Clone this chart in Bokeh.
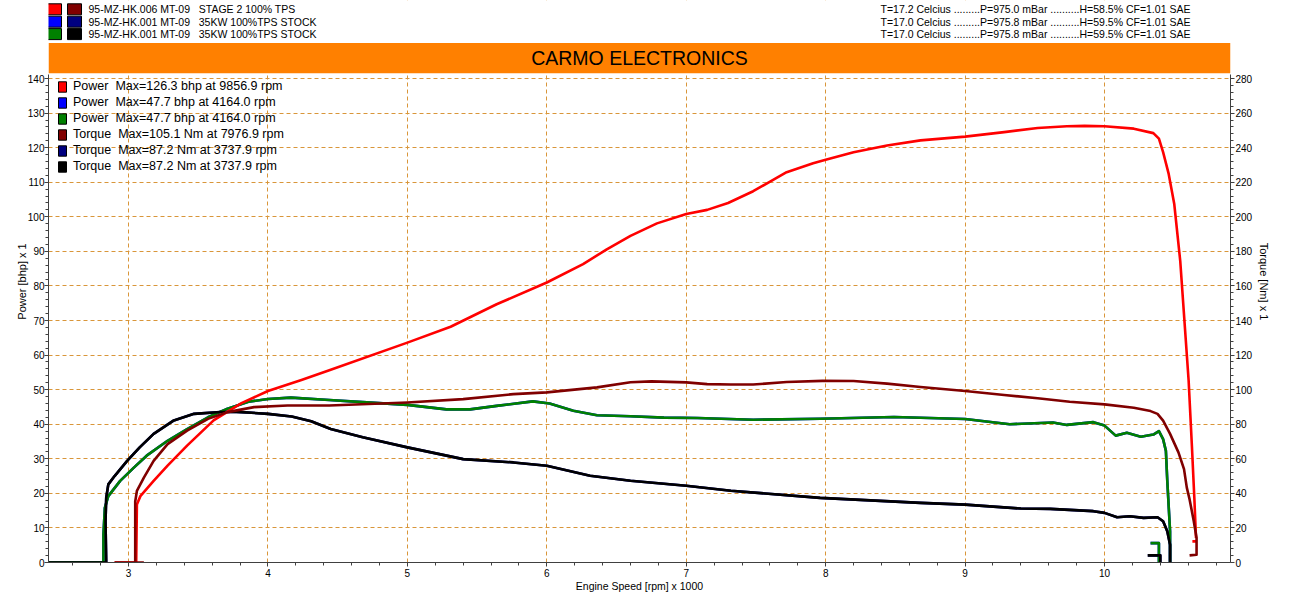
import math
from bokeh.plotting import figure
from bokeh.models import (Range1d, LinearAxis, FixedTicker, Legend, LegendItem,
                          Label, BoxAnnotation)
from bokeh.embed import file_html
from bokeh.resources import INLINE

NaN = float("nan")

# ---------------- data (rpm x 1000) ----------------
# STAGE 2 run: power (bhp) and torque (Nm)
rpm_stage2_power = [2.90, 3.055, 3.06, 3.085, 3.18, 3.28, 3.42, 3.61, 3.81, 4.0, 4.24, 4.44,
                    5.0, 5.31, 5.64, 6.0, 6.26, 6.43, 6.6, 6.79, 7.0, 7.15, 7.3, 7.48, 7.72, 7.91,
                    8.0, 8.2, 8.44, 8.68, 9.0, 9.28, 9.52, 9.73, 9.857, 10.0, 10.21, 10.35,
                    10.39, 10.42, 10.46, 10.50, 10.543, 10.603, 10.627, 10.644, 10.656,
                    NaN, 10.63, 10.656]
power_stage2 = [0, 0, 16.8, 19.2, 23.6, 28.0, 33.8, 41.1, 46.1, 49.6, 52.8, 55.6,
                63.6, 68.2, 74.7, 81.0, 86.3, 90.6, 94.5, 98.1, 100.8, 102.0, 104.0, 107.4, 112.9, 115.5,
                116.5, 118.7, 120.6, 122.1, 123.2, 124.5, 125.7, 126.2, 126.3, 126.2, 125.5, 124.2,
                122.6, 118.7, 112.4, 103.7, 87.2, 52.7, 33.3, 18.7, 7.1,
                NaN, 6.1, 6.1]

rpm_stage2_torque = [2.90, 3.11, NaN, 3.048, 3.048, 3.06, 3.11, 3.18, 3.28, 3.42, 3.57, 3.71,
                     3.90, 4.14, 4.44, 5.0, 5.40, 5.76, 6.0, 6.36, 6.6, 6.75, 7.0, 7.15, 7.32,
                     7.48, 7.72, 7.977, 8.2, 8.44, 8.68, 9.0, 9.28, 9.52, 9.75, 10.0, 10.21,
                     10.33, 10.38, 10.42, 10.47, 10.53, 10.57, 10.59, 10.61, 10.64, 10.66,
                     10.66, 10.61]
torque_stage2 = [0, 0, NaN, 0, 35.3, 41.4, 49.1, 58.8, 68.5, 76.3, 83.1, 87.0,
                 89.9, 90.8, 90.8, 92.6, 94.5, 97.4, 98.4, 101.3, 104.3, 104.8, 104.2, 103.2, 103.0,
                 103.0, 104.4, 105.1, 105.0, 103.5, 101.5, 99.2, 96.9, 95.0, 93.0, 91.5, 89.5,
                 87.6, 86.0, 82.1, 74.4, 63.7, 54.0, 43.3, 36.5, 23.9, 14.2,
                 4.5, 4.1]

# STOCK run (35KW 100%TPS): power (bhp) and torque (Nm)
rpm_stock_power = [2.40, 2.82, 2.82, 2.83, 2.855, 2.94, 3.04, 3.13, 3.28, 3.42, 3.57, 3.71,
                   3.86, 4.0, 4.164, 4.44, 4.68, 5.0, 5.28, 5.45, 5.64, 5.9, 6.02, 6.19, 6.36,
                   6.6, 6.84, 7.08, 7.48, 7.96, 8.49, 9.0, 9.32, 9.63, 9.73, 9.92, 10.0, 10.08,
                   10.16, 10.26, 10.35, 10.39, 10.42, 10.44, 10.45, 10.47, 10.47,
                   NaN, 10.33, 10.39, 10.39]
power_stock = [0, 0, 8.1, 15.8, 19.2, 23.6, 27.5, 30.9, 35.2, 38.6, 42.0, 44.5,
               46.5, 47.3, 47.7, 47.0, 46.4, 45.6, 44.3, 44.3, 45.3, 46.6, 46.0, 43.9, 42.6,
               42.3, 41.9, 41.8, 41.3, 41.6, 42.1, 41.5, 40.0, 40.5, 39.8, 40.6, 39.6, 36.7,
               37.5, 36.4, 37.0, 38.0, 35.7, 32.3, 23.6, 9.0, 0,
               NaN, 5.6, 5.6, 0]

rpm_stock_torque = [2.40, 2.84, 2.835, 2.84, 2.855, 2.90, 2.99, 3.08, 3.18, 3.325, 3.47, 3.66,
                    3.738, 3.81, 4.0, 4.17, 4.31, 4.45, 4.68, 5.0, 5.40, 5.76, 6.0, 6.31, 6.6,
                    7.0, 7.32, 7.96, 8.68, 9.0, 9.4, 9.61, 9.92, 10.0, 10.09, 10.18, 10.28,
                    10.38, 10.42, 10.45, 10.47, 10.47,
                    NaN, 10.31, 10.40, 10.40]
torque_stock = [0, 0, 23.9, 37.5, 45.2, 50.0, 58.8, 66.6, 74.4, 82.2, 86.0, 87.1,
                87.2, 87.0, 86.0, 84.5, 81.7, 77.2, 72.4, 66.6, 59.8, 57.9, 56.0, 50.2, 47.3,
                44.4, 41.5, 37.4, 34.5, 33.5, 31.2, 31.0, 29.7, 28.7, 26.2, 26.8, 25.8,
                26.2, 23.9, 18.1, 10.3, 0,
                NaN, 4.1, 4.1, 0]

# header / legend texts
run_names = ["95-MZ-HK.006 MT-09\u00a0\u00a0 STAGE 2 100% TPS",
             "95-MZ-HK.001 MT-09\u00a0\u00a0 35KW 100%TPS STOCK",
             "95-MZ-HK.001 MT-09\u00a0\u00a0 35KW 100%TPS STOCK"]
run_conditions = ["T=17.2 Celcius .........P=975.0 mBar ..........H=58.5% CF=1.01 SAE",
                  "T=17.0 Celcius .........P=975.8 mBar ..........H=59.5% CF=1.01 SAE",
                  "T=17.0 Celcius .........P=975.8 mBar ..........H=59.5% CF=1.01 SAE"]
power_colors = ["#ff0000", "#0000ff", "#008000"]
torque_colors = ["#800000", "#000080", "#000000"]
legend_labels = ["Power  Max=126.3 bhp at 9856.9 rpm",
                 "Power  Max=47.7 bhp at 4164.0 rpm",
                 "Power  Max=47.7 bhp at 4164.0 rpm",
                 "Torque  Max=105.1 Nm at 7976.9 rpm",
                 "Torque  Max=87.2 Nm at 3737.9 rpm",
                 "Torque  Max=87.2 Nm at 3737.9 rpm"]
banner_text = "CARMO ELECTRONICS"
x_major = [3, 4, 5, 6, 7, 8, 9, 10]
power_major = list(range(0, 141, 10))
torque_major = list(range(0, 281, 20))

# ---------------- layout (canvas pixels) ----------------
FONT = "Liberation Sans"
W, H = 1300, 600
BL, BR, BT, BB = 48, 70, 0, 38
FRAME_W = W - BL - BR
FRAME_H = H - BT - BB
PX_PER_KRPM = 139.43
PX_PER_BHP = 3.457
x_start = 2.426
x_end = x_start + FRAME_W / PX_PER_KRPM
y_end = FRAME_H / PX_PER_BHP
FRAME_LEFT = BL
FRAME_BOTTOM = BT + FRAME_H


def dx(cx):
    return x_start + (cx - FRAME_LEFT) / PX_PER_KRPM


def dy(cy):
    return (FRAME_BOTTOM - cy) / PX_PER_BHP


p = figure(width=W, height=H, min_border_left=BL, min_border_right=BR,
           min_border_top=BT, min_border_bottom=BB,
           x_range=Range1d(x_start, x_end), y_range=Range1d(0, y_end),
           output_backend="svg", toolbar_location=None,
           background_fill_color="white", border_fill_color="white")
p.outline_line_color = None
p.extra_y_ranges = {"torque": Range1d(0, 2 * y_end)}

AXIS_COLOR = "#404040"
axis_top = dy(74)


def style_axis(ax):
    ax.axis_line_color = AXIS_COLOR
    ax.major_tick_line_color = AXIS_COLOR
    ax.minor_tick_line_color = AXIS_COLOR
    ax.major_tick_in = 0
    ax.major_tick_out = 4
    ax.minor_tick_in = 0
    ax.minor_tick_out = 3
    ax.major_label_text_font = FONT
    ax.major_label_text_font_size = "10px"
    ax.major_label_text_color = "black"
    ax.axis_label_text_font = FONT
    ax.axis_label_text_font_size = "11px"
    ax.axis_label_text_font_style = "normal"
    ax.axis_label_text_color = "black"
    ax.major_label_standoff = 1
    ax.axis_label_standoff = 3


xa = p.xaxis[0]
xa.ticker = FixedTicker(ticks=x_major,
                        minor_ticks=[round(2.6 + 0.2 * i, 1) for i in range(42)])
xa.axis_label = "Engine Speed [rpm] x 1000"
style_axis(xa)
xa.major_label_standoff = 2
xa.axis_label_text_font_size = "10.5px"
xa.axis_label_standoff = 0

ya = p.yaxis[0]
ya.ticker = FixedTicker(ticks=power_major, minor_ticks=list(range(0, 141, 2)))
ya.axis_label = "Power [bhp] x 1"
ya.bounds = (0, axis_top)
style_axis(ya)
ya.major_label_standoff = 0
ya.axis_label_standoff = -3

yr = LinearAxis(y_range_name="torque", axis_label="Torque [Nm] x 1")
yr.ticker = FixedTicker(ticks=torque_major, minor_ticks=list(range(0, 281, 4)))
yr.bounds = (0, 2 * axis_top)
style_axis(yr)
yr.major_label_standoff = 1
yr.axis_label_standoff = 3
p.add_layout(yr, "right")

for g in (p.xgrid[0], p.ygrid[0]):
    g.grid_line_color = "#d9963a"
    g.grid_line_dash = "4 3"
    g.grid_line_width = 1

# ---------------- curves ----------------
LW = 2.6
# stock runs drawn twice (blue/navy underneath green/black)
p.line(rpm_stock_power, power_stock, line_color=power_colors[1], line_width=LW, line_join="round")
p.line(rpm_stock_torque, torque_stock, line_color=torque_colors[1], line_width=LW,
       line_join="round", y_range_name="torque")
p.line(rpm_stock_power, power_stock, line_color=power_colors[2], line_width=LW, line_join="round")
p.line(rpm_stock_torque, torque_stock, line_color=torque_colors[2], line_width=LW,
       line_join="round", y_range_name="torque")
p.line(rpm_stage2_power, power_stage2, line_color=power_colors[0], line_width=LW, line_join="round")
p.line(rpm_stage2_torque, torque_stage2, line_color=torque_colors[0], line_width=LW,
       line_join="round", y_range_name="torque")

# ---------------- header ----------------
p.add_layout(BoxAnnotation(bottom=dy(73), fill_color="white", fill_alpha=1,
                           line_alpha=0, level="annotation"))
p.add_layout(BoxAnnotation(bottom=dy(72.7), top=dy(42.5), fill_color="#ff8000", fill_alpha=1,
                           line_alpha=0, level="annotation"))
p.add_layout(Label(x=(x_start + x_end) / 2, y=dy(57.5), text=banner_text,
                   text_align="center", text_baseline="middle", text_font=FONT,
                   text_font_size="19.5px", text_color="black"))

row_y = [8.8, 21.2, 33.6]
for i in range(3):
    yc = row_y[i]
    for j, col in enumerate((power_colors[i], torque_colors[i])):
        x0 = 47 + 20 * j
        p.add_layout(BoxAnnotation(left=dx(x0), right=dx(x0 + 14), bottom=dy(yc + 5.5),
                                   top=dy(yc - 5.5), fill_color=col, fill_alpha=1,
                                   line_color="black", line_alpha=1, line_width=1,
                                   level="annotation"))
    p.add_layout(Label(x=dx(88), y=dy(yc), text=run_names[i], text_baseline="middle",
                       text_font=FONT, text_font_size="10.5px", text_color="black"))
    p.add_layout(Label(x=dx(880), y=dy(yc), text=run_conditions[i], text_baseline="middle",
                       text_font=FONT, text_font_size="10.5px", text_color="black"))

# ---------------- legend ----------------
# swatch-only renderers (a single undrawable NaN quad each) so the legend shows filled boxes
legend_colors = power_colors + torque_colors
items = []
for lab, col in zip(legend_labels, legend_colors):
    r = p.quad(left=[NaN], right=[NaN], top=[NaN], bottom=[NaN], fill_color=col,
               line_color="black", line_width=1)
    items.append(LegendItem(label=lab, renderers=[r]))
legend = Legend(items=items, location=(9, FRAME_BOTTOM - 173),
                glyph_width=10, glyph_height=13, label_height=14, spacing=2,
                padding=0, margin=0, label_standoff=6,
                label_text_font=FONT, label_text_font_size="12.5px",
                label_text_color="black",
                border_line_alpha=0, background_fill_alpha=0)
p.add_layout(legend)

open("out.html", "w").write(file_html(p, INLINE))
